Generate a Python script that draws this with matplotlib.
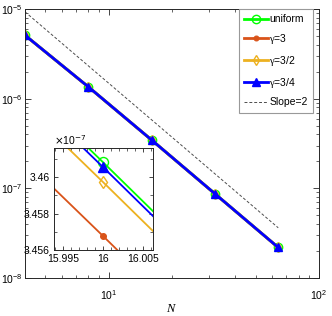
import numpy as np
import matplotlib
matplotlib.use("Agg")
import matplotlib.pyplot as plt
from matplotlib.ticker import FixedLocator, NullFormatter, LogLocator

plt.rcParams['font.family'] = ['Liberation Sans', 'DejaVu Sans']
plt.rcParams['mathtext.fontset'] = 'custom'
plt.rcParams['mathtext.rm'] = 'Liberation Serif'
plt.rcParams['mathtext.it'] = 'Liberation Serif:italic'
plt.rcParams['font.size'] = 7.5

N = [4, 8, 16, 32, 64]
err_uniform = [5.10e-6, 1.3555e-6, 3.46082e-7, 8.700e-8, 2.190e-8]
err_g3 = [5.095e-6, 1.3535e-6, 3.45677e-7, 8.690e-8, 2.187e-8]
err_g32 = [5.098e-6, 1.3548e-6, 3.45973e-7, 8.697e-8, 2.189e-8]
err_g34 = [5.099e-6, 1.3553e-6, 3.46055e-7, 8.699e-8, 2.1895e-8]
slope_N = [4, 64]
slope_vals = [9.3e-6, 3.63e-8]

labels = ['uniform', r'$\mathrm{\gamma}$=3', r'$\mathrm{\gamma}$=3/2', r'$\mathrm{\gamma}$=3/4', 'Slope=2']
inset_xticks = [15.995, 16, 16.005]
inset_xticklabels = ['15.995', '16', '16.005']
inset_yticks = [3.456e-7, 3.458e-7, 3.46e-7]
inset_yticklabels = ['3.456', '3.458', '3.46']

c_uni = (0.0, 1.0, 0.0)
c_g3 = (0.85, 0.325, 0.098)
c_g32 = (0.929, 0.694, 0.125)
c_g34 = (0.0, 0.0, 1.0)
c_slope = (0.3, 0.3, 0.3)
axc = (0.15, 0.15, 0.15)

fig = plt.figure(figsize=(3.32, 3.16), dpi=100)
ax = fig.add_axes([25/332, 1-278/316, 294/332, 269/316])

def draw(a, lw, ms_scale=1.0):
    a.plot(N, err_uniform, '-o', color=c_uni, lw=lw, ms=6*ms_scale, mfc='none', mew=1.0, label=labels[0])
    a.plot(N, err_g3, '-o', color=c_g3, lw=lw, ms=3.5*ms_scale, mfc=c_g3, mew=0.8, label=labels[1])
    a.plot(N, err_g32, '-d', color=c_g32, lw=lw, ms=5.5*ms_scale, mfc='none', mew=1.0, label=labels[2])
    a.plot(N, err_g34, '-^', color=c_g34, lw=lw, ms=6*ms_scale, mfc=c_g34, mew=1.0, label=labels[3])

draw(ax, 2.0)
ax.plot(slope_N, slope_vals, '--', color=c_slope, lw=0.7, dashes=(3, 2), label=labels[4])
ax.set_xscale('log')
ax.set_yscale('log')
ax.set_xlim(4, 100)
ax.set_ylim(1e-8, 1e-5)
ax.set_xlabel('$N$', fontsize=9, labelpad=1)
ax.tick_params(which='both', direction='in', top=True, right=True, colors=axc, labelcolor='black')
ax.tick_params(which='major', length=4, width=0.6, labelsize=7.5)
ax.tick_params(which='minor', length=2.5, width=0.5)
ax.tick_params(axis='x', pad=7)
ax.tick_params(axis='y', pad=2)
ax.yaxis.set_minor_locator(LogLocator(base=10, subs=np.arange(2, 10)))
ax.yaxis.set_minor_formatter(NullFormatter())
ax.xaxis.set_minor_formatter(NullFormatter())
for s in ax.spines.values():
    s.set_color(axc)
    s.set_linewidth(0.7)

leg = ax.legend(loc='upper right', bbox_to_anchor=(288/294, 1.0), borderaxespad=0,
                fancybox=False, framealpha=1, edgecolor=(0.6, 0.6, 0.6),
                handlelength=2.3, handletextpad=0.1, labelspacing=0.75,
                borderpad=0.5, fontsize=7.5)
leg.get_frame().set_linewidth(0.8)

# inset
ins = fig.add_axes([54/332, 1-250/316, 99/332, 102/316])
draw(ins, 1.3, ms_scale=1.2)
ins.set_xscale('log')
ins.set_yscale('log')
ins.set_xlim(15.99388, 16.00625)
ins.set_ylim(3.456e-7, 3.4616e-7)
ins.xaxis.set_major_locator(FixedLocator(inset_xticks))
ins.xaxis.set_minor_locator(FixedLocator(list(np.arange(15.994, 16.0065, 0.001))))
ins.yaxis.set_major_locator(FixedLocator(inset_yticks))
ins.yaxis.set_minor_locator(FixedLocator([3.457e-7, 3.459e-7, 3.461e-7]))
ins.set_xticklabels(inset_xticklabels)
ins.set_yticklabels(inset_yticklabels)
ins.xaxis.set_minor_formatter(NullFormatter())
ins.yaxis.set_minor_formatter(NullFormatter())
ins.tick_params(which='both', direction='in', top=True, right=True, colors=axc, labelcolor='black')
ins.tick_params(which='major', length=3, width=0.6, labelsize=7.5, pad=3)
ins.tick_params(which='minor', length=2, width=0.5)
for s in ins.spines.values():
    s.set_color(axc)
    s.set_linewidth(0.7)
ins.text(0.0, 1.01, r'$\times$10$^{-7}$', transform=ins.transAxes, fontsize=7.5,
         ha='left', va='bottom', family='Liberation Sans', math_fontfamily='dejavusans')

fig.savefig('out.png', dpi=100)
